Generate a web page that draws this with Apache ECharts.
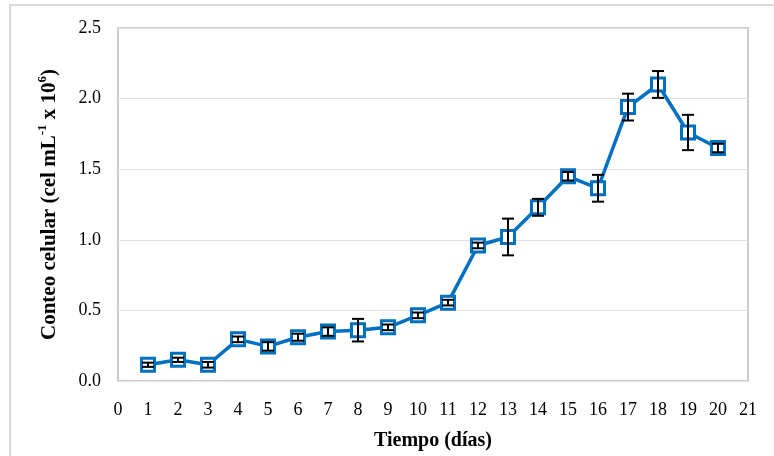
<!DOCTYPE html>
<html>
<head>
<meta charset="utf-8">
<script src="https://cdn.jsdelivr.net/npm/echarts@6/dist/echarts.min.js"></script>
<style>
  html, body { margin: 0; padding: 0; background: #fff; }
  #chart { width: 774px; height: 456px; }
</style>
</head>
<body>
<div id="chart"></div>
<script>
// dias de cultivo
const dias = [1, 2, 3, 4, 5, 6, 7, 8, 9, 10, 11, 12, 13, 14, 15, 16, 17, 18, 19, 20]
// conteo celular medio (x10^6 cel/mL)
const conteo = [0.115, 0.15, 0.115, 0.295, 0.245, 0.31, 0.35, 0.36, 0.38, 0.465,
                0.555, 0.96, 1.02, 1.23, 1.45, 1.365, 1.94, 2.1, 1.76, 1.65]
// desviacion (barras de error)
const desv = [0.015, 0.015, 0.02, 0.02, 0.03, 0.025, 0.03, 0.08, 0.02, 0.02,
              0.02, 0.02, 0.13, 0.06, 0.03, 0.095, 0.095, 0.095, 0.125, 0.03]

const serif = '"Liberation Serif", "Times New Roman", serif'
const azul = '#0070C0'

const puntos = dias.map((d, i) => [d, conteo[i]])
const errores = dias.map((d, i) => [d, conteo[i] - desv[i], conteo[i] + desv[i]])

function renderError(params, api) {
    const x = api.value(0)
    const lo = api.coord([x, api.value(1)])
    const hi = api.coord([x, api.value(2)])
    const w = 6
    const style = { stroke: '#000', lineWidth: 2 }
    return {
        type: 'group',
        children: [
            { type: 'line', shape: { x1: lo[0], y1: lo[1], x2: hi[0], y2: hi[1] }, style },
            { type: 'line', shape: { x1: lo[0] - w, y1: lo[1], x2: lo[0] + w, y2: lo[1] }, style },
            { type: 'line', shape: { x1: hi[0] - w, y1: hi[1], x2: hi[0] + w, y2: hi[1] }, style }
        ]
    }
}

const myChart = echarts.init(document.getElementById('chart'))
myChart.setOption({
    animation: false,
    backgroundColor: '#fff',
    graphic: [{
        type: 'rect',
        shape: { x: 10, y: 5, width: 780, height: 470 },
        style: { fill: 'none', stroke: '#d9d9d9', lineWidth: 2 },
        silent: true,
        z: -10
    }],
    grid: {
        left: 118, right: 26, top: 28, bottom: 73,
        show: true,
        borderColor: '#cccccc',
        borderWidth: 2
    },
    xAxis: {
        type: 'value',
        min: 0, max: 21, interval: 1,
        axisLine: { show: false },
        axisTick: { show: false },
        splitLine: { show: false },
        axisLabel: { color: '#000', fontFamily: serif, fontSize: 18, margin: 20 },
        name: 'Tiempo (días)',
        nameLocation: 'middle',
        nameGap: 50,
        nameTextStyle: { color: '#000', fontFamily: serif, fontSize: 20, fontWeight: 'bold' }
    },
    yAxis: {
        type: 'value',
        min: 0, max: 2.5, interval: 0.5,
        axisLine: { show: false },
        axisTick: { show: false },
        splitLine: { lineStyle: { color: '#e0e0e0', width: 1 } },
        axisLabel: {
            color: '#000', fontFamily: serif, fontSize: 18, margin: 17,
            formatter: v => v.toFixed(1)
        },
        name: '{b|Conteo celular (cel mL}{s|-1}{b| x 10}{s|6}{b|)}',
        nameLocation: 'middle',
        nameGap: 58,
        nameTextStyle: {
            color: '#000', fontFamily: serif, fontSize: 21, fontWeight: 'bold',
            rich: {
                b: { fontFamily: serif, fontSize: 21, fontWeight: 'bold', color: '#000', lineHeight: 24, verticalAlign: 'bottom' },
                s: { fontFamily: serif, fontSize: 13, fontWeight: 'bold', color: '#000', lineHeight: 24, verticalAlign: 'top' }
            }
        }
    },
    series: [
        {
            type: 'line',
            data: puntos,
            symbol: 'rect',
            symbolSize: 13,
            lineStyle: { color: azul, width: 3.5 },
            itemStyle: { color: '#fff', borderColor: azul, borderWidth: 3 },
            z: 2
        },
        {
            type: 'custom',
            data: errores,
            renderItem: renderError,
            encode: { x: 0, y: [1, 2] },
            z: 5
        }
    ]
})
</script>
</body>
</html>
